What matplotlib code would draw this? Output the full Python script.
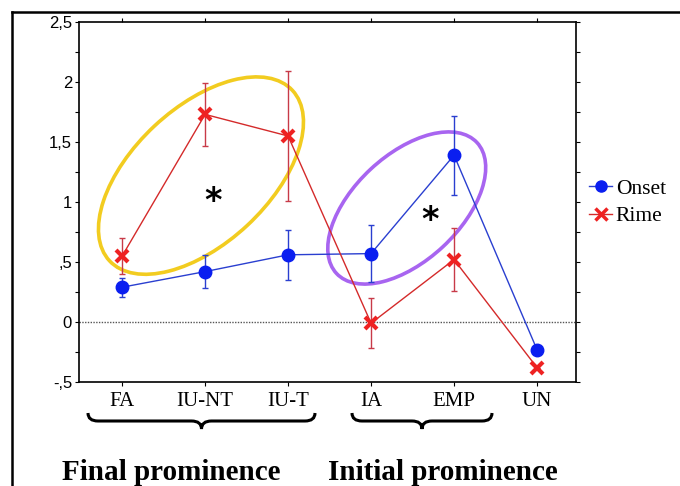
import matplotlib
matplotlib.use("Agg")
import matplotlib.pyplot as plt
from matplotlib.patches import Ellipse, PathPatch
from matplotlib.path import Path
from matplotlib.transforms import Affine2D
from matplotlib.lines import Line2D

# data
categories = ['FA', 'IU-NT', 'IU-T', 'IA', 'EMP', 'UN']
onset = [0.29, 0.42, 0.56, 0.57, 1.39, -0.23]
onset_err = [0.08, 0.14, 0.21, 0.24, 0.33, 0.0]
rime = [0.55, 1.73, 1.55, -0.01, 0.52, -0.38]
rime_err = [0.15, 0.26, 0.54, 0.21, 0.26, 0.0]
ytick_vals = [-0.5, 0, 0.5, 1, 1.5, 2, 2.5]
ytick_labels = ['-,5', '0', ',5', '1', '1,5', '2', '2,5']

W, H = 680, 486
fig = plt.figure(figsize=(W / 100, H / 100), dpi=100)
ax = fig.add_axes([79 / W, 1 - 382 / H, (576 - 79) / W, (382 - 22) / H])

x = list(range(len(categories)))
blue = '#0a1ef0'
red = '#ee2222'

ax.axhline(0, color='#555555', lw=1.0, ls=(0, (1, 1)), zorder=1)

# error bars first, thin, then the lines with markers
ax.errorbar(x, onset, yerr=onset_err, fmt='none', ecolor='#2a3fd0',
            elinewidth=1.0, capsize=2.5, capthick=1.0, zorder=3)
ax.errorbar(x, rime, yerr=rime_err, fmt='none', ecolor='#c83a48',
            elinewidth=1.0, capsize=2.5, capthick=1.0, zorder=3)
ax.plot(x, onset, color='#2a3fd0', lw=1.0, marker='o', ms=9, mfc=blue, mec=blue, zorder=4)
ax.plot(x, rime, color='#d42a2a', lw=1.0, marker='x', ms=9, mew=3, mec=red, zorder=5)

ax.set_xlim(-0.52, 5.47)
ax.set_ylim(-0.5, 2.5)
ax.set_xticks(x)
ax.set_xticklabels(categories, family='Liberation Serif', fontsize=15)
ax.set_yticks(ytick_vals)
ax.set_yticklabels(ytick_labels, family='Liberation Sans', fontsize=12)
ax.set_yticks([v + 0.25 for v in ytick_vals[:-1]], minor=True)
ax.tick_params(which='both', direction='out', length=3, width=0.8,
               top=True, right=True)
ax.tick_params(axis='x', pad=4)
ax.tick_params(axis='y', pad=2)
for s in ax.spines.values():
    s.set_linewidth(1.2)

# ellipses drawn in pixel space around data centres
def ring(cx, cy, a, b, ang, color):
    px, py = ax.transData.transform((cx, cy))
    e = Ellipse((0, 0), 2 * a, 2 * b, angle=ang, fill=False, ec=color, lw=2.6,
                transform=Affine2D().translate(px, py), zorder=2)
    ax.add_artist(e)

ring(0.95, 1.22, 125, 68, 43, '#f2cc20')
ring(3.43, 0.95, 96, 53, 43, '#a865f0')

ax.text(1.10, 1.03, '*', fontsize=24, weight='bold', ha='center', va='center_baseline')
ax.text(3.71, 0.875, '*', fontsize=24, weight='bold', ha='center', va='center_baseline')

handles = [Line2D([], [], color='#2a3fd0', lw=1, marker='o', ms=8, mfc=blue, mec=blue),
           Line2D([], [], color='#d42a2a', lw=1, marker='x', ms=8, mew=2.5, mec=red)]
fig.legend(handles, ['Onset', 'Rime'], loc='upper left',
           bbox_to_anchor=(578 / W, 1 - 168 / H), frameon=False,
           prop={'family': 'Liberation Serif', 'size': 15.5}, handlelength=1.1,
           handletextpad=0.15, labelspacing=0.35, borderpad=0)

# pixel (y down) -> display
pix = Affine2D().scale(1, -1).translate(0, H)

def brace(x0, x1, ytop, h):
    xm = (x0 + x1) / 2
    ym = ytop + h * 0.5
    verts = [(x0, ytop), (x0, ym), (x0 + 10, ym), (xm - 10, ym), (xm, ym), (xm, ytop + h),
             (xm, ym), (xm + 10, ym), (x1 - 10, ym), (x1, ym), (x1, ytop)]
    codes = [Path.MOVETO, Path.CURVE3, Path.CURVE3, Path.LINETO, Path.CURVE3, Path.CURVE3,
             Path.CURVE3, Path.CURVE3, Path.LINETO, Path.CURVE3, Path.CURVE3]
    fig.add_artist(PathPatch(Path(verts, codes), fill=False, lw=2.2, ec='black',
                             transform=pix))

brace(88, 315, 413, 16)
brace(352, 492, 413, 16)

fig.text(62 / W, 1 - 480 / H, 'Final prominence', family='Liberation Serif',
         weight='bold', fontsize=21, va='baseline')
fig.text(328 / W, 1 - 480 / H, 'Initial prominence', family='Liberation Serif',
         weight='bold', fontsize=21, va='baseline')

# outer frame (top and left edges)
fig.add_artist(Line2D([12, W], [12, 12], color='black', lw=1.8, transform=pix))
fig.add_artist(Line2D([12, 12], [12, H], color='black', lw=1.8, transform=pix))

fig.savefig('out.png', dpi=100)
